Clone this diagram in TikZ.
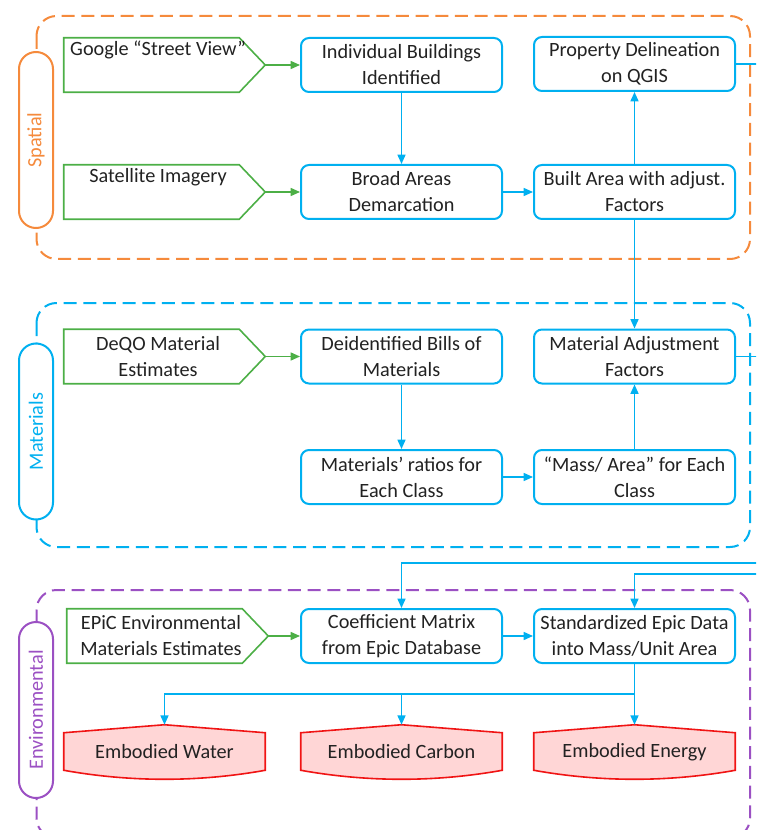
\documentclass[tikz,border=0pt]{standalone}
\usepackage{fontspec}
\setmainfont{Carlito}
\usepackage{tikz}
\usetikzlibrary{arrows.meta,calc,backgrounds}

\definecolor{spatialc}{RGB}{245,138,60}
\definecolor{matc}{RGB}{0,176,240}
\definecolor{envc}{RGB}{155,80,195}
\definecolor{inc}{RGB}{76,175,70}
\definecolor{outc}{RGB}{240,20,20}
\definecolor{outfill}{RGB}{255,214,214}
\definecolor{txt}{RGB}{34,34,34}

\tikzset{
  lbl/.style={font=\fontsize{15.2}{19.5}\selectfont, text=txt, align=center},
  procbox/.style={lbl, draw=matc, line width=1.5pt, rounded corners=6pt, fill=white,
    minimum width=150.75pt, minimum height=40.5pt, inner sep=0pt},
  inbox/.style={lbl, minimum width=141pt, minimum height=40.5pt, inner sep=0pt},
  inshape/.style={draw=inc, line width=1.2pt},
  outbox/.style={lbl, minimum width=150.75pt, minimum height=40.5pt, inner sep=0pt},
  outshape/.style={draw=outc, fill=outfill, line width=1.2pt},
  grpbox/.style={draw=#1, line width=1.5pt, rounded corners=15pt, dash pattern=on 9.75pt off 5pt},
  pill/.style={draw=#1, text=#1, fill=white, line width=1.5pt, rounded corners=12.75pt,
    rotate=90, minimum width=132pt, minimum height=25.5pt, inner sep=0pt,
    font=\fontsize{15.2}{19.5}\selectfont},
  flow/.style={draw=matc, line width=1.1pt, -{Triangle[length=7pt,width=6pt]}},
  gflow/.style={draw=inc, line width=1.1pt, -{Triangle[length=7pt,width=6pt]}},
}

\begin{document}
\begin{tikzpicture}[x=0.75pt,y=-0.75pt]
  \path[use as bounding box] (0,0) rectangle (756,830);
  \clip (0,0) rectangle (756,830);

  % Spatial
  \node[inbox] (gsv) at (158,65) {Google “Street View”\\\strut};
  \node[inbox] (sat) at (158,192) {Satellite Imagery\\\strut};
  \node[procbox] (ibi) at (401.5,65) {Individual Buildings\\Identified};
  \node[procbox] (bad) at (401.5,192) {Broad Areas\\Demarcation};
  \node[procbox] (pdq) at (634.5,64) {Property Delineation\\on QGIS};
  \node[procbox] (baf) at (634.5,192) {Built Area with adjust.\\Factors};

  % Materials
  \node[inbox] (deqo) at (158,356.5) {DeQO Material\\Estimates};
  \node[procbox] (dbm) at (401.5,356.5) {Deidentified Bills of\\Materials};
  \node[procbox] (maf) at (634.5,356.5) {Material Adjustment\\Factors};
  \node[procbox] (mrc) at (401.5,477) {Materials’ ratios for\\Each Class};
  \node[procbox] (mac) at (634.5,477) {“Mass/ Area” for Each\\Class};

  % Environmental
  \node[inbox] (epic) at (161,636) {EPiC Environmental\\Materials Estimates};
  \node[procbox] (cme) at (401.5,636) {Coefficient Matrix\\from Epic Database};
  \node[procbox] (sed) at (634.5,636) {Standardized Epic Data\\into Mass/Unit Area};
  \node[outbox] (ewat) at (164.5,752) {Embodied Water};
  \node[outbox] (ecar) at (401.5,752) {Embodied Carbon};
  \node[outbox] (eene) at (634.5,752) {Embodied Energy};

  % group labels
  \node[pill=spatialc] (lsp) at (36,140) {Spatial};
  \node[pill=matc] (lma) at (36,431.5) {Materials};
  \node[pill=envc] (len) at (36,710) {Environmental};

  \begin{scope}[on background layer]
    % dashed groups
    \draw[grpbox=spatialc] (36.5,16) rectangle (750,259);
    \draw[grpbox=matc] (36.5,303) rectangle (750,547);
    \draw[grpbox=envc] (36.5,590) rectangle (750,838);
    % inputs and outputs
    \foreach \n in {gsv,sat,deqo,epic}
      \draw[inshape] (\n.north west) -- ($(\n.north east)+(-13,0)$) -- ($(\n.east)+(13,0)$)
        -- ($(\n.south east)+(-13,0)$) -- (\n.south west) -- cycle;
    \foreach \n in {ewat,ecar,eene}
      \draw[outshape] ($(\n.north west)+(0,8)$) -- (\n.north) -- ($(\n.north east)+(0,8)$)
        -- ($(\n.south east)+(0,-9)$) .. controls +(-67,12) and +(67,12) .. ($(\n.south west)+(0,-9)$) -- cycle;
  \end{scope}

  % connectors
  \foreach \a/\b in {gsv/ibi,sat/bad,deqo/dbm,epic/cme}
    \draw[gflow] ($(\a.east)+(13,0)$) -- (\b.west);
  \draw[flow] (ibi) -- (bad);
  \draw[flow] (bad) -- (baf);
  \draw[flow] (baf) -- (pdq);
  \draw[flow] (baf) -- (maf);
  \draw[flow] (dbm) -- (mrc);
  \draw[flow] (mrc) -- (mac);
  \draw[flow] (mac) -- (maf);
  \draw[flow] (cme) -- (sed);

  \coordinate (railA) at (775,563);
  \coordinate (railB) at (765,574);
  \draw[flow] (pdq.east) -| (railA) -| (cme.north);
  \draw[flow] (maf.east) -| (railB) -| (sed.north);

  \coordinate (split) at (634.5,694);
  \draw[flow] (sed.south) -- (split) -- (eene.north);
  \draw[flow] (split) -| (ewat.north);
  \draw[flow] (split) -| (ecar.north);
\end{tikzpicture}
\end{document}
